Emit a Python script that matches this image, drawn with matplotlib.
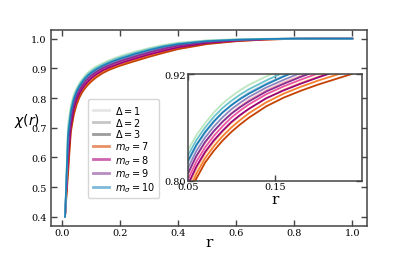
import matplotlib.pyplot as plt
from matplotlib.lines import Line2D

# r grid and chi(r) values, one list per Delta (1, 2, 3)
r = [0.01, 0.02, 0.03, 0.04, 0.05, 0.06, 0.07, 0.08, 0.09, 0.10, 0.11, 0.12, 0.14,
     0.16, 0.18, 0.20, 0.22, 0.25, 0.30, 0.35, 0.40, 0.50, 0.60, 0.70, 0.80, 0.90, 1.00]

chi_m7 = [
    [0.400, 0.580, 0.709, 0.758, 0.790, 0.8135, 0.8305, 0.8438, 0.8552, 0.8649, 0.8733, 0.8809, 0.8928,
     0.9026, 0.9105, 0.9175, 0.9237, 0.9319, 0.9455, 0.958, 0.9695, 0.9845, 0.993, 0.9975, 0.999, 1.000, 1.000],
    [0.400, 0.560, 0.697, 0.750, 0.784, 0.808, 0.8255, 0.8388, 0.8502, 0.8599, 0.8683, 0.8759, 0.8883,
     0.8981, 0.906, 0.913, 0.9192, 0.9279, 0.942, 0.955, 0.967, 0.983, 0.992, 0.997, 0.999, 1.000, 1.000],
    [0.400, 0.540, 0.685, 0.742, 0.778, 0.8025, 0.8205, 0.8338, 0.8452, 0.8549, 0.8633, 0.8709, 0.8838,
     0.8936, 0.9015, 0.9085, 0.9147, 0.9239, 0.9385, 0.952, 0.9645, 0.9815, 0.991, 0.9965, 0.999, 1.000, 1.000],
]
chi_m8 = [
    [0.400, 0.630, 0.730, 0.779, 0.807, 0.827, 0.8425, 0.8555, 0.8663, 0.8761, 0.884, 0.8909, 0.9019,
     0.9108, 0.9185, 0.9256, 0.9321, 0.9402, 0.9535, 0.965, 0.9755, 0.9885, 0.995, 0.9985, 0.9995, 1.000, 1.000],
    [0.400, 0.610, 0.718, 0.771, 0.801, 0.8215, 0.8375, 0.8505, 0.8613, 0.8711, 0.879, 0.8859, 0.8974,
     0.9063, 0.914, 0.9211, 0.9276, 0.9362, 0.950, 0.962, 0.973, 0.987, 0.994, 0.998, 0.9995, 1.000, 1.000],
    [0.400, 0.590, 0.706, 0.763, 0.795, 0.816, 0.8325, 0.8455, 0.8563, 0.8661, 0.874, 0.8809, 0.8929,
     0.9018, 0.9095, 0.9166, 0.9231, 0.9322, 0.9465, 0.959, 0.9705, 0.9855, 0.993, 0.9975, 0.9995, 1.000, 1.000],
]
chi_m9 = [
    [0.400, 0.670, 0.754, 0.794, 0.8195, 0.8391, 0.8537, 0.866, 0.8765, 0.8855, 0.8928, 0.8993, 0.9095,
     0.9182, 0.9262, 0.9333, 0.9395, 0.9474, 0.9605, 0.972, 0.9815, 0.9915, 0.997, 0.9995, 1.000, 1.000, 1.000],
    [0.400, 0.650, 0.742, 0.786, 0.8135, 0.8336, 0.8487, 0.861, 0.8715, 0.8805, 0.8878, 0.8943, 0.905,
     0.9137, 0.9217, 0.9288, 0.935, 0.9434, 0.957, 0.969, 0.979, 0.990, 0.996, 0.999, 1.000, 1.000, 1.000],
    [0.400, 0.630, 0.730, 0.778, 0.8075, 0.8281, 0.8437, 0.856, 0.8665, 0.8755, 0.8828, 0.8893, 0.9005,
     0.9092, 0.9172, 0.9243, 0.9305, 0.9394, 0.9535, 0.966, 0.9765, 0.9885, 0.995, 0.9985, 1.000, 1.000, 1.000],
]
chi_m10 = [
    [0.400, 0.710, 0.777, 0.811, 0.834, 0.8515, 0.865, 0.877, 0.887, 0.895, 0.902, 0.908, 0.9175,
     0.9265, 0.9345, 0.9415, 0.9475, 0.956, 0.9685, 0.979, 0.9865, 0.9945, 0.998, 0.9995, 1.000, 1.000, 1.000],
    [0.400, 0.690, 0.765, 0.803, 0.828, 0.846, 0.860, 0.872, 0.882, 0.890, 0.897, 0.903, 0.913,
     0.922, 0.930, 0.937, 0.943, 0.952, 0.965, 0.976, 0.984, 0.993, 0.997, 0.999, 1.000, 1.000, 1.000],
    [0.400, 0.670, 0.753, 0.795, 0.822, 0.8405, 0.855, 0.867, 0.877, 0.885, 0.892, 0.898, 0.9085,
     0.9175, 0.9255, 0.9325, 0.9385, 0.948, 0.9615, 0.973, 0.9815, 0.9915, 0.996, 0.9985, 1.000, 1.000, 1.000],
]

m_values = [7, 8, 9, 10]
deltas = [1, 2, 3]
cmaps = ['Oranges', 'RdPu', 'BuPu', 'GnBu']
shades = [0.3, 0.55, 0.8]
gray_shades = ['#e6e6e6', '#c6c6c6', '#9c9c9c']

plt.rcParams['font.family'] = 'serif'
plt.rcParams['mathtext.fontset'] = 'dejavusans'

fig = plt.figure(figsize=(4.07, 2.55), dpi=100)
ax = fig.add_axes([0.1246, 0.111, 0.7764, 0.7686])
axins = fig.add_axes([0.4612, 0.2875, 0.4283, 0.4173])

for m, curves, cm in zip(m_values, [chi_m7, chi_m8, chi_m9, chi_m10], cmaps):
    cols = plt.get_cmap(cm)(shades)
    for vals, col in zip(curves, cols):
        ax.plot(r, vals, color=col, lw=1.2)
        axins.plot(r, vals, color=col, lw=1.3)

ax.set_xticks([0.0, 0.2, 0.4, 0.6, 0.8, 1.0])
ax.set_yticks([0.4, 0.5, 0.6, 0.7, 0.8, 0.9, 1.0])
ax.tick_params(direction='in', top=True, right=True, length=4, width=1,
               labelsize=7, color='#444444')
ax.tick_params(axis='x', pad=1.5)
ax.tick_params(axis='y', pad=3)
for s in ax.spines.values():
    s.set_color('#444444')
    s.set_linewidth(1.1)
ax.set_xlabel('r', fontsize=11, labelpad=-1)
ax.set_ylabel(r'$\chi(r)$', fontsize=10, rotation=0, ha='center', va='center')
ax.yaxis.set_label_coords(-0.075, 0.54)

# legend with proxy lines
handles = []
labels = []
for d, g in zip(deltas, gray_shades):
    handles.append(Line2D([], [], color=g, lw=2))
    labels.append(r'$\Delta=%d$' % d)
for m, cm in zip(m_values, cmaps):
    handles.append(Line2D([], [], color=plt.get_cmap(cm)(0.75), lw=2, alpha=0.6))
    labels.append(r'$m_\sigma=%d$' % m)
ax.legend(handles, labels, loc='lower left', bbox_to_anchor=(0.119, 0.14),
          borderaxespad=0, fontsize=7, handlelength=1.7, handletextpad=0.6,
          labelspacing=-0.02, borderpad=0.45)

axins.set_xlim(0.05, 0.25)
axins.set_ylim(0.80, 0.92)
axins.set_xticks([0.05, 0.15])
axins.set_xticklabels(['0.05', '0.15'])
axins.set_yticks([0.80, 0.92])
axins.set_yticklabels(['0.80', '0.92'])
axins.tick_params(direction='in', top=True, right=True, length=4, width=1,
                  labelsize=7, pad=1, color='#444444')
for s in axins.spines.values():
    s.set_color('#444444')
    s.set_linewidth(1.1)
axins.set_xlabel('r', fontsize=11, labelpad=1)

fig.savefig('out.png', dpi=100)
